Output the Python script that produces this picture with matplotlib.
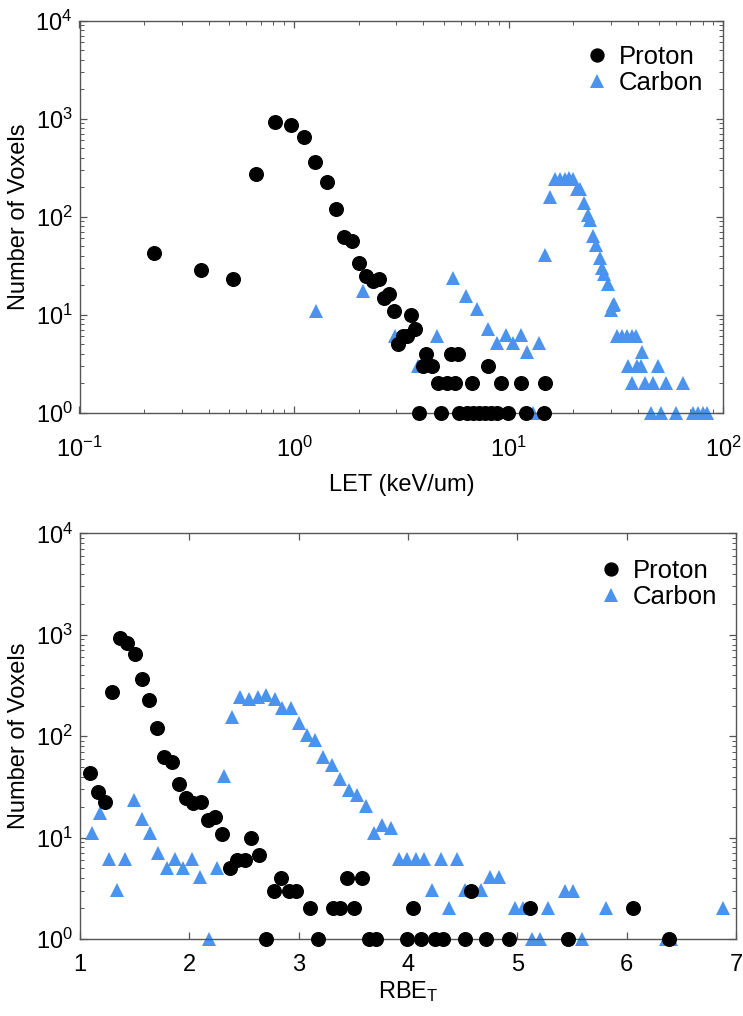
import matplotlib
matplotlib.use("Agg")
import matplotlib.pyplot as plt
from matplotlib.ticker import LogLocator, NullFormatter, FixedLocator

plt.rcParams['font.family'] = ['Liberation Sans', 'DejaVu Sans']
plt.rcParams['mathtext.fontset'] = 'custom'
plt.rcParams['mathtext.rm'] = 'Liberation Sans'
plt.rcParams['mathtext.it'] = 'Liberation Sans:italic'
plt.rcParams['mathtext.bf'] = 'Liberation Sans:bold'

# ---------------- data: top panel (LET) ----------------
proton_let = [0.223, 0.369, 0.521, 0.667, 0.816, 0.965, 1.113, 1.257, 1.42, 1.575,
              1.70, 1.86, 2.00, 2.16, 2.32, 2.48, 2.61, 2.77, 2.93, 3.05,
              3.22, 3.35, 3.52, 3.66, 4.0, 4.11, 4.40, 5.37, 5.83, 8.0,
              4.70, 5.15, 5.63, 6.78, 9.25, 11.35, 14.8,
              3.81, 4.84, 5.89, 6.42, 6.85, 7.28, 7.76, 8.26, 8.80, 9.97, 12.0, 14.6]
proton_let_n = [43, 28.6, 23, 273, 919, 857, 646, 364, 228, 120,
                62, 57, 33.5, 24.8, 22, 23, 14.9, 16.2, 11, 5,
                6, 6, 9.9, 7.1, 3, 4, 3, 4, 4, 3,
                2, 2, 2, 2, 2, 2, 2,
                1, 1, 1, 1, 1, 1, 1, 1, 1, 1, 1, 1]

carbon_let = [1.266, 2.10, 2.94, 3.78, 4.63, 5.48, 6.32, 7.1, 8.0, 8.85,
              9.7, 10.5, 11.4, 12.2, 13.0, 13.9, 14.8, 15.6, 16.4, 17.4,
              18.3, 19.2, 20.0, 20.9, 21.5, 22.5, 23.3, 23.9, 24.8, 25.4,
              26.5, 27.2, 27.9, 29.1, 29.9, 30.5, 30.8, 31.9, 33.7, 35.5,
              37.5, 39.2, 42.0, 35.8, 39.5, 41.3, 49.5, 37.7, 43.2, 47.2,
              54.1, 65.2, 46.1, 51.1, 60.1, 72.1, 76.6, 80.8, 84.3]
carbon_let_n = [11, 17.5, 6, 3, 6, 23.5, 15.5, 11.4, 7.2, 5.2,
                6.2, 5.2, 6.2, 4.2, 1, 5.2, 40.7, 159, 245, 240,
                242, 250, 240, 193, 193, 137, 104, 92, 64, 51,
                38, 30, 26, 20.4, 11.2, 12.5, 13, 6, 6, 6,
                6, 6, 4.2, 3, 3, 3, 3, 2, 2, 2,
                2, 2, 1, 1, 1, 1, 1, 1, 1]

# ---------------- data: bottom panel (RBE_T) ----------------
proton_rbe = [1.094, 1.165, 1.232, 1.296, 1.363, 1.433, 1.500, 1.567, 1.631, 1.701,
              1.768, 1.838, 1.902, 1.969, 2.036, 2.110, 2.171, 2.238, 2.302, 2.369,
              2.439, 2.512, 2.567, 2.637, 2.774, 2.841, 2.909, 2.979, 3.107, 3.31,
              3.38, 3.51, 4.05, 5.12, 6.06, 3.445, 3.577, 4.58,
              2.70, 3.18, 3.64, 3.71, 3.99, 4.12, 4.25, 4.32, 4.52, 4.71, 4.92, 5.46, 6.39]
proton_rbe_n = [43, 28, 22.5, 270, 920, 833, 640, 362, 226, 119,
                62.5, 56, 33.6, 24.3, 21.7, 22.5, 14.8, 15.8, 10.8, 5,
                6, 6, 9.8, 6.8, 3, 4, 3, 3, 2, 2,
                2, 2, 2, 2, 2, 4, 4, 3,
                1, 1, 1, 1, 1, 1, 1, 1, 1, 1, 1, 1, 1]

carbon_rbe = [1.110, 1.186, 1.262, 1.338, 1.415, 1.491, 1.564, 1.640, 1.713, 1.793,
              1.869, 1.945, 2.024, 2.10, 2.177, 2.25, 2.32, 2.39, 2.466, 2.543,
              2.628, 2.704, 2.781, 2.848, 2.933, 3.003, 3.076, 3.147, 3.226, 3.303,
              3.38, 3.457, 3.533, 3.614, 3.685, 3.765, 3.842, 3.918, 3.994, 4.070,
              4.149, 4.299, 4.445, 4.22, 4.372, 4.524, 4.672, 4.75, 4.833, 4.975,
              5.052, 5.134, 5.208, 5.276, 5.436, 5.512, 5.589, 5.811, 6.36, 6.41, 6.878]
carbon_rbe_n = [11.2, 17.3, 6.1, 3.07, 6.1, 23.4, 15.1, 11.2, 7.1, 5.06,
                6.1, 5.06, 6.1, 4.1, 1, 5.06, 40.6, 155, 244, 232,
                244, 254, 232, 188, 188, 134, 102, 92, 62.5, 52,
                37.5, 29.5, 26.4, 20.4, 11.2, 13.2, 12.3, 6.2, 6.2, 6.2,
                6.2, 6.2, 6.2, 3.07, 2, 3.07, 3.07, 4.1, 4.1, 2,
                2, 1, 1, 2, 3, 3, 1, 2, 1, 1, 2]

BLUE = '#4a93ee'
SPINE = '#555555'
FS = 17
LFS = 18.5

fig = plt.figure(figsize=(7.43, 10.16), dpi=100)
W, H = 743.0, 1016.0
ax1 = fig.add_axes([79.5 / W, 1 - 412.7 / H, (723.3 - 79.5) / W, (412.7 - 20.7) / H])
ax2 = fig.add_axes([80 / W, 1 - 939 / H, (736 - 80) / W, (939 - 533.3) / H])


def style(ax):
    for s in ax.spines.values():
        s.set_color(SPINE)
        s.set_linewidth(1.0)
    ax.tick_params(which='both', direction='in', top=True, right=True,
                   color=SPINE, labelsize=FS)
    ax.tick_params(which='major', length=5, width=0.9)
    ax.tick_params(which='minor', length=3, width=0.7)
    ax.set_yscale('log')
    ax.set_ylim(1, 1e4)
    ax.yaxis.set_major_locator(LogLocator(base=10, numticks=10))
    ax.yaxis.set_minor_locator(LogLocator(base=10, subs=range(2, 10), numticks=10))
    ax.yaxis.set_minor_formatter(NullFormatter())
    ax.tick_params(axis='y', pad=5)
    ax.set_ylabel('Number of Voxels', fontsize=FS, labelpad=4)


def add_legend(ax, anchor):
    ax.legend(loc='upper right', bbox_to_anchor=anchor, frameon=False,
              fontsize=LFS, handlelength=0.8, handletextpad=0.45, labelspacing=0.1,
              borderpad=0.2, markerscale=0.95)


# ---- top panel ----
style(ax1)
ax1.set_xscale('log')
ax1.set_xlim(0.1, 100)
ax1.xaxis.set_minor_locator(LogLocator(base=10, subs=range(2, 10), numticks=10))
ax1.xaxis.set_minor_formatter(NullFormatter())
ax1.tick_params(axis='x', pad=17)
ax1.plot(proton_let, proton_let_n, 'o', color='black', ms=9.8, clip_on=False,
         label='Proton', zorder=3)
ax1.plot(carbon_let, carbon_let_n, '^', color=BLUE, ms=10, clip_on=False,
         label='Carbon', zorder=2, markeredgewidth=0)
ax1.set_xlabel('LET (keV/um)', fontsize=FS, labelpad=9)
add_legend(ax1, (0.997, 0.985))

# ---- bottom panel ----
style(ax2)
ax2.set_xlim(1, 7)
ax2.xaxis.set_major_locator(FixedLocator([1, 2, 3, 4, 5, 6, 7]))
ax2.tick_params(axis='x', pad=11)
ax2.plot(proton_rbe, proton_rbe_n, 'o', color='black', ms=9.8, clip_on=False,
         label='Proton', zorder=3)
ax2.plot(carbon_rbe, carbon_rbe_n, '^', color=BLUE, ms=10, clip_on=False,
         label='Carbon', zorder=2, markeredgewidth=0)
ax2.set_xlabel(r'RBE$_\mathregular{T}$', fontsize=FS, labelpad=2)
add_legend(ax2, (0.999, 0.982))

fig.savefig('out.png', dpi=100)
